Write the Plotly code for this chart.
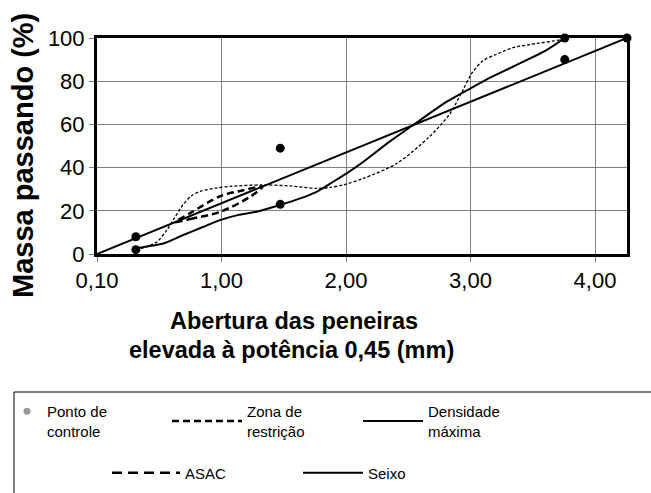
import plotly.graph_objects as go

FONT = "Liberation Sans, Arial, sans-serif"

# ---- data (x in axis units: sieve opening ^0.45) ----
x_tick_vals = [0, 1, 2, 3, 4]
x_tick_text = ["0,10", "1,00", "2,00", "3,00", "4,00"]
y_tick_vals = [0, 20, 40, 60, 80, 100]

ctrl_x = [0.312, 0.312, 1.472, 1.472, 3.757, 3.757, 4.257]
ctrl_y = [2, 8, 23, 49, 90, 100, 100]

maxdens_x = [0, 4.257]
maxdens_y = [0, 100]

zone_x = [0.63, 0.75, 0.99, 1.23, 1.33, 1.15, 0.99, 0.75, 0.63]
zone_y = [14.8, 16.2, 19.5, 26.5, 31.2, 29.2, 26.8, 19.0, 14.8]

asac_x = [0.312, 0.40, 0.48, 0.56, 0.62, 0.693, 0.76, 0.83, 0.95, 1.07, 1.33,
          1.55, 1.76, 1.87, 1.98, 2.14, 2.41, 2.67, 2.835, 2.94, 3.01, 3.10,
          3.21, 3.34, 3.48, 3.72, 3.757]
asac_y = [2.0, 3.4, 5.5, 11.0, 16.5, 23.0, 27.0, 29.0, 30.5, 31.3, 32.0,
          31.5, 30.4, 30.8, 32.0, 35.0, 42.0, 54.3, 65.0, 76.0, 83.6, 89.5,
          92.5, 95.5, 97.0, 99.2, 100.0]

seixo_x = [0.312, 0.40, 0.533, 0.693, 0.85, 0.988, 1.13, 1.283, 1.47, 1.62,
           1.764, 1.87, 2.005, 2.14, 2.35, 2.54, 2.81, 3.0, 3.17, 3.34, 3.61,
           3.757]
seixo_y = [2.6, 3.5, 4.9, 8.8, 12.5, 15.7, 18.0, 19.6, 22.7, 25.5,
           28.8, 32.5, 37.3, 42.7, 52.0, 59.7, 70.5, 76.7, 82.0, 86.7, 94.4,
           100.0]

names = ["Ponto de<br>controle", "Zona de<br>restrição", "Densidade<br>máxima",
         "ASAC", "Seixo"]

# ---- layout helpers (pixel -> paper) ----
W, H = 651, 493
L, R, T, B = 97, 24, 38, 239
PW, PH = W - L - R, H - T - B


def px(xp):
    return (xp - L) / PW


def py(yp):
    return (H - B - yp) / PH


fig = go.Figure()

# max density line
fig.add_trace(go.Scatter(x=maxdens_x, y=maxdens_y, mode="lines",
                         line=dict(color="black", width=2),
                         name=names[2], legend="legend3"))
# restriction zone
fig.add_trace(go.Scatter(x=zone_x, y=zone_y, mode="lines",
                         line=dict(color="black", width=2.5, dash="7px,4px",
                                   shape="spline", smoothing=0.8),
                         name=names[1], legend="legend2"))
# Seixo
fig.add_trace(go.Scatter(x=seixo_x, y=seixo_y, mode="lines",
                         line=dict(color="black", width=2, shape="spline",
                                   smoothing=0.8),
                         name=names[4], legend="legend5"))
# ASAC (plot)
fig.add_trace(go.Scatter(x=asac_x, y=asac_y, mode="lines",
                         line=dict(color="black", width=1.3, dash="3px,2px",
                                   shape="spline", smoothing=0.8),
                         name=names[3], legendgroup="asac", showlegend=False))
# ASAC (legend symbol)
fig.add_trace(go.Scatter(x=[None], y=[None], mode="lines",
                         line=dict(color="black", width=2.5, dash="10px,6px"),
                         name=names[3], legendgroup="asac", legend="legend4"))
# control points
fig.add_trace(go.Scatter(x=ctrl_x, y=ctrl_y, mode="markers",
                         marker=dict(color="black", size=9),
                         cliponaxis=False, name=names[0],
                         legendgroup="ctrl", showlegend=False))
fig.add_trace(go.Scatter(x=[None], y=[None], mode="markers",
                         marker=dict(color="#999999", size=7),
                         name=names[0], legendgroup="ctrl", legend="legend"))

axis_common = dict(showgrid=True, gridcolor="#808080", gridwidth=1,
                   showline=True, linewidth=3, linecolor="black", mirror=True,
                   ticks="outside", ticklen=5, tickcolor="#808080",
                   zeroline=False, tickfont=dict(family=FONT, size=22,
                                                 color="black"))

fig.update_xaxes(range=[0, 4.257], tickvals=x_tick_vals, ticktext=x_tick_text,
                 **axis_common)
fig.update_yaxes(range=[0, 100], tickvals=y_tick_vals, **axis_common)

leg_font = dict(family=FONT, size=15, color="black")


def leg(xp, yp, width=30, valign="middle"):
    return dict(x=px(xp), y=py(yp), xanchor="left", yanchor="middle",
                orientation="h", itemwidth=width, valign=valign,
                font=leg_font, bgcolor="rgba(0,0,0,0)", borderwidth=0)


fig.update_layout(
    width=W, height=H,
    margin=dict(l=L, r=R, t=T, b=B, autoexpand=False),
    paper_bgcolor="white", plot_bgcolor="white",
    font=dict(family=FONT, color="black"),
    legend=leg(7, 421, 30, "top"),
    legend2=leg(167, 421, 70),
    legend3=leg(358, 421, 60),
    legend4=leg(107, 473, 68),
    legend5=leg(298, 473, 60),
    shapes=[dict(type="rect", xref="paper", yref="paper",
                 x0=px(14), x1=px(700), y0=py(392), y1=py(560),
                 line=dict(color="black", width=1))],
    annotations=[
        dict(text="Massa passando (%)", textangle=-90, xref="paper",
             yref="paper", x=px(23), y=py(156), xanchor="center",
             yanchor="middle", showarrow=False,
             font=dict(family=FONT, size=29, weight="bold", color="black")),
        dict(text="Abertura das peneiras", xref="paper", yref="paper",
             x=px(293.5), y=py(321), xanchor="center", yanchor="middle",
             showarrow=False,
             font=dict(family=FONT, size=23.5, weight="bold", color="black")),
        dict(text="elevada à potência 0,45 (mm)", xref="paper", yref="paper",
             x=px(291.5), y=py(350), xanchor="center", yanchor="middle",
             showarrow=False,
             font=dict(family=FONT, size=23.5, weight="bold", color="black")),
    ],
)

fig.write_html("out.html")
